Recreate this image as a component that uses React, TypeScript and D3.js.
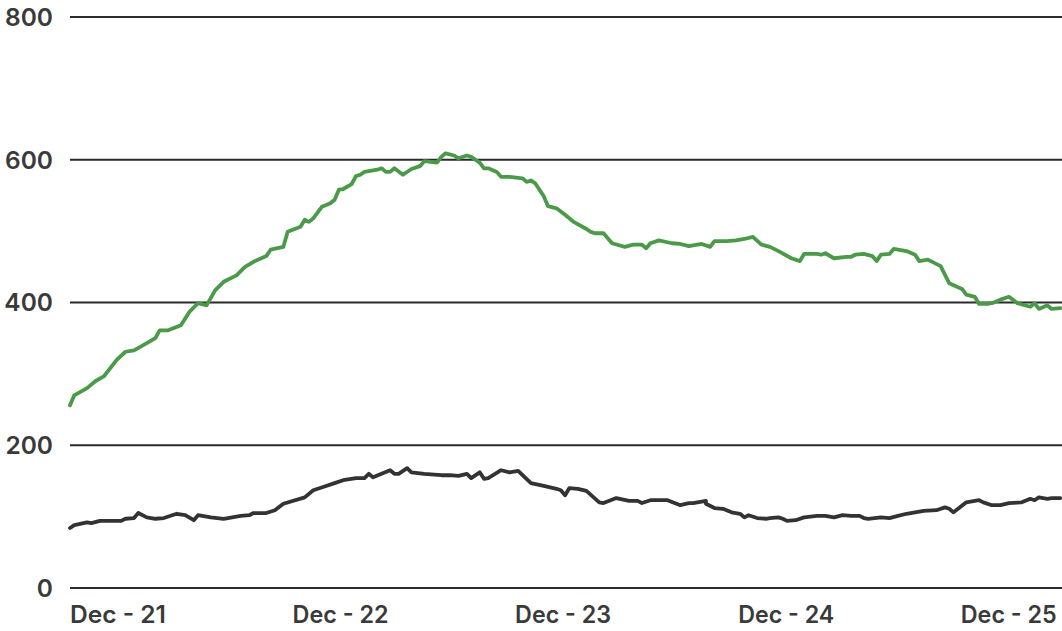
import React from "react";
import * as d3 from "d3";

// weeks since 2021-12-01 and values
const greenWeeks = [0,1,4,6,8,11,13,15,18,20,21,23,26,28,30,32,34,36,39,41,43,46,47,50,51,54,55,56,57,59,61,62,63,64,66,67,68,69,72,73,74,75,76,78,80,82,83,86,87,88,90,91,93,94,95,96,97,98,100,101,103,106,107,108,109,110,111,112,114,116,118,121,122,123,125,127,130,132,134,135,136,138,141,143,145,148,150,151,154,156,158,160,162,164,166,169,171,172,175,176,177,179,182,183,184,186,188,189,190,192,193,196,198,199,201,204,206,209,210,212,213,215,216,218,220,222,225,226,227,229,230,232];
const greenValues = [256,270,280,290,297,320,331,333,343,350,361,361,368,387,399,396,417,429,438,450,457,465,474,478,499,506,516,513,518,534,539,544,558,559,566,577,579,583,586,588,583,583,588,579,587,591,598,596,604,609,606,602,606,604,600,596,588,588,583,576,576,574,569,571,567,558,549,535,532,523,513,503,499,497,497,483,478,481,481,476,483,487,483,482,479,482,478,486,486,487,489,492,481,478,472,462,458,468,468,467,469,462,464,464,467,468,465,458,467,468,475,472,467,458,460,451,427,419,411,408,398,398,399,404,408,399,394,399,391,396,391,392];

const darkWeeks = [0,1,4,5,7,12,13,15,16,18,20,22,25,27,29,30,33,36,40,42,43,46,48,50,55,57,60,62,64,67,69,70,71,73,75,76,77,79,80,83,87,89,91,93,94,96,97,98,101,103,105,108,111,114,115,116,117,119,121,124,125,128,131,133,134,136,139,140,143,145,146,149,149,151,153,155,157,158,159,161,163,164,166,167,168,170,172,175,177,179,181,183,185,186,187,190,192,194,196,198,200,203,205,206,207,210,213,214,216,218,220,223,225,226,227,229,230,232];
const darkValues = [84,88,92,91,94,94,97,98,105,99,97,98,104,102,95,102,99,97,101,102,105,105,109,118,127,137,143,147,151,154,154,160,155,160,165,160,160,168,162,160,158,158,157,160,154,162,153,154,165,162,164,147,143,139,137,130,140,139,136,120,119,126,122,122,119,123,123,123,116,119,119,122,118,112,111,106,104,99,102,98,97,98,99,97,94,95,99,101,101,99,102,101,101,98,97,99,98,101,104,106,108,109,113,111,106,120,123,120,116,116,119,120,125,123,127,125,126,126];

const yTicks = [0, 200, 400, 600, 800];
const xTickLabels = ["Dec - 21", "Dec - 22", "Dec - 23", "Dec - 24", "Dec - 25"];
const xTickYears = [2021, 2022, 2023, 2024, 2025];

const START = new Date(2021, 11, 1);
const END = new Date(2026, 4, 16);
const weekToDate = (w: number) => new Date(START.getTime() + w * 7 * 86400000);

export default function App() {
  const W = 1062, H = 631;
  const x = d3.scaleTime().domain([START, END]).range([70, 1062]);
  const y = d3.scaleLinear().domain([0, 800]).range([588, 17]);

  const line = d3
    .line<[number, number]>()
    .x((d) => x(weekToDate(d[0])))
    .y((d) => y(d[1]));

  const green = greenWeeks.map((w, i) => [w, greenValues[i]] as [number, number]);
  const dark = darkWeeks.map((w, i) => [w, darkValues[i]] as [number, number]);

  const font = "Inter, 'Noto Sans', sans-serif";

  return (
    <div style={{ position: "fixed", left: 0, top: 0, width: W, height: H, background: "#fff" }}>
      <svg width={W} height={H} style={{ display: "block" }}>
        {yTicks.map((t) => (
          <g key={t}>
            <line x1={70} x2={1062} y1={y(t)} y2={y(t)} stroke="#2b2b2b" strokeWidth={2} />
            <text
              x={53}
              y={y(t)}
              dy="0.36em"
              textAnchor="end"
              fontFamily={font}
              fontWeight={600}
              fontSize={24.5}
              fill="#3a3a3a"
            >
              {t}
            </text>
          </g>
        ))}
        {xTickYears.map((yr, i) => (
          <text
            key={yr}
            x={x(new Date(yr, 11, 1))}
            y={623}
            textAnchor="start"
            fontFamily={font}
            fontWeight={600}
            fontSize={24}
            fill="#3a3a3a"
            textLength={96}
            lengthAdjust="spacingAndGlyphs"
          >
            {xTickLabels[i]}
          </text>
        ))}
        <path d={line(dark) || ""} fill="none" stroke="#333333" strokeWidth={3.8} strokeLinejoin="round" strokeLinecap="round" />
        <path d={line(green) || ""} fill="none" stroke="#4a9a4a" strokeWidth={3.8} strokeLinejoin="round" strokeLinecap="round" />
      </svg>
    </div>
  );
}
